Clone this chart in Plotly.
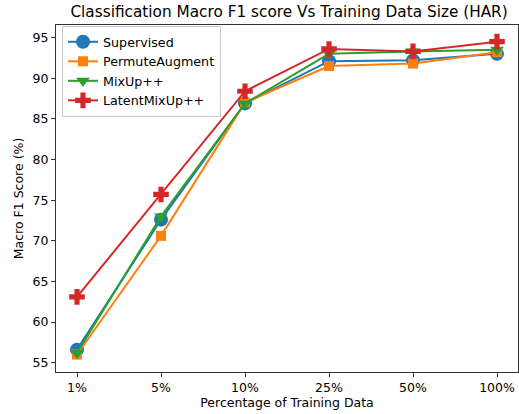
import plotly.graph_objects as go

categories = ["1%", "5%", "10%", "25%", "50%", "100%"]
supervised = [56.6, 72.6, 86.9, 92.1, 92.2, 93.0]
permute = [56.0, 70.6, 87.0, 91.5, 91.8, 93.2]
mixup = [56.2, 73.0, 86.9, 93.0, 93.3, 93.5]
latent = [63.1, 75.7, 88.4, 93.6, 93.3, 94.5]
yticks = [55, 60, 65, 70, 75, 80, 85, 90, 95]

series = [
    ("Supervised", supervised, "#1f77b4", "circle", 14),
    ("PermuteAugment", permute, "#ff7f0e", "square", 10),
    ("MixUp++", mixup, "#2ca02c", "triangle-down", 12),
    ("LatentMixUp++", latent, "#d62728", "cross", 13),
]

fig = go.Figure()
for name, vals, color, sym, size in series:
    fig.add_trace(go.Scatter(
        x=list(range(len(categories))), y=vals, name=name, mode="lines+markers",
        line=dict(color=color, width=2),
        marker=dict(symbol=sym, size=size, color=color, line=dict(width=0)),
    ))

font = "DejaVu Sans"
fig.update_layout(
    width=519, height=414,
    margin=dict(l=56, r=1, t=25, b=42),
    paper_bgcolor="white", plot_bgcolor="white",
    font=dict(family=font, size=12, color="black"),
    title=dict(text="Classification Macro F1 score Vs Training Data Size (HAR)",
               x=0.557, xanchor="center", y=0.971, yanchor="middle",
               font=dict(size=15.3, family=font)),
    showlegend=True,
    legend=dict(x=0.013, y=0.997, xanchor="left", yanchor="top",
                bordercolor="#cccccc", borderwidth=1, bgcolor="rgba(255,255,255,0.8)",
                font=dict(size=12.7, family=font), tracegroupgap=0),
)
fig.update_xaxes(
    range=[-0.25, 5.25], tickmode="array", tickvals=list(range(len(categories))),
    ticktext=categories, showgrid=False, zeroline=False,
    showline=True, linecolor="#333333", linewidth=1, mirror=True,
    ticks="outside", ticklen=4, tickcolor="#333333", tickfont=dict(size=12.5),
    title=dict(text="Percentage of Training Data", font=dict(size=12.5), standoff=4),
)
fig.update_yaxes(
    range=[53.85, 96.55], tickmode="array", tickvals=yticks,
    showgrid=False, zeroline=False,
    showline=True, linecolor="#333333", linewidth=1, mirror=True,
    ticks="outside", ticklen=4, tickcolor="#333333", tickfont=dict(size=12.5),
    title=dict(text="Macro F1 Score (%)", font=dict(size=12.5), standoff=6),
)
fig.write_html("out.html", config={"displayModeBar": False},
               post_script="document.body.style.margin='0';")
